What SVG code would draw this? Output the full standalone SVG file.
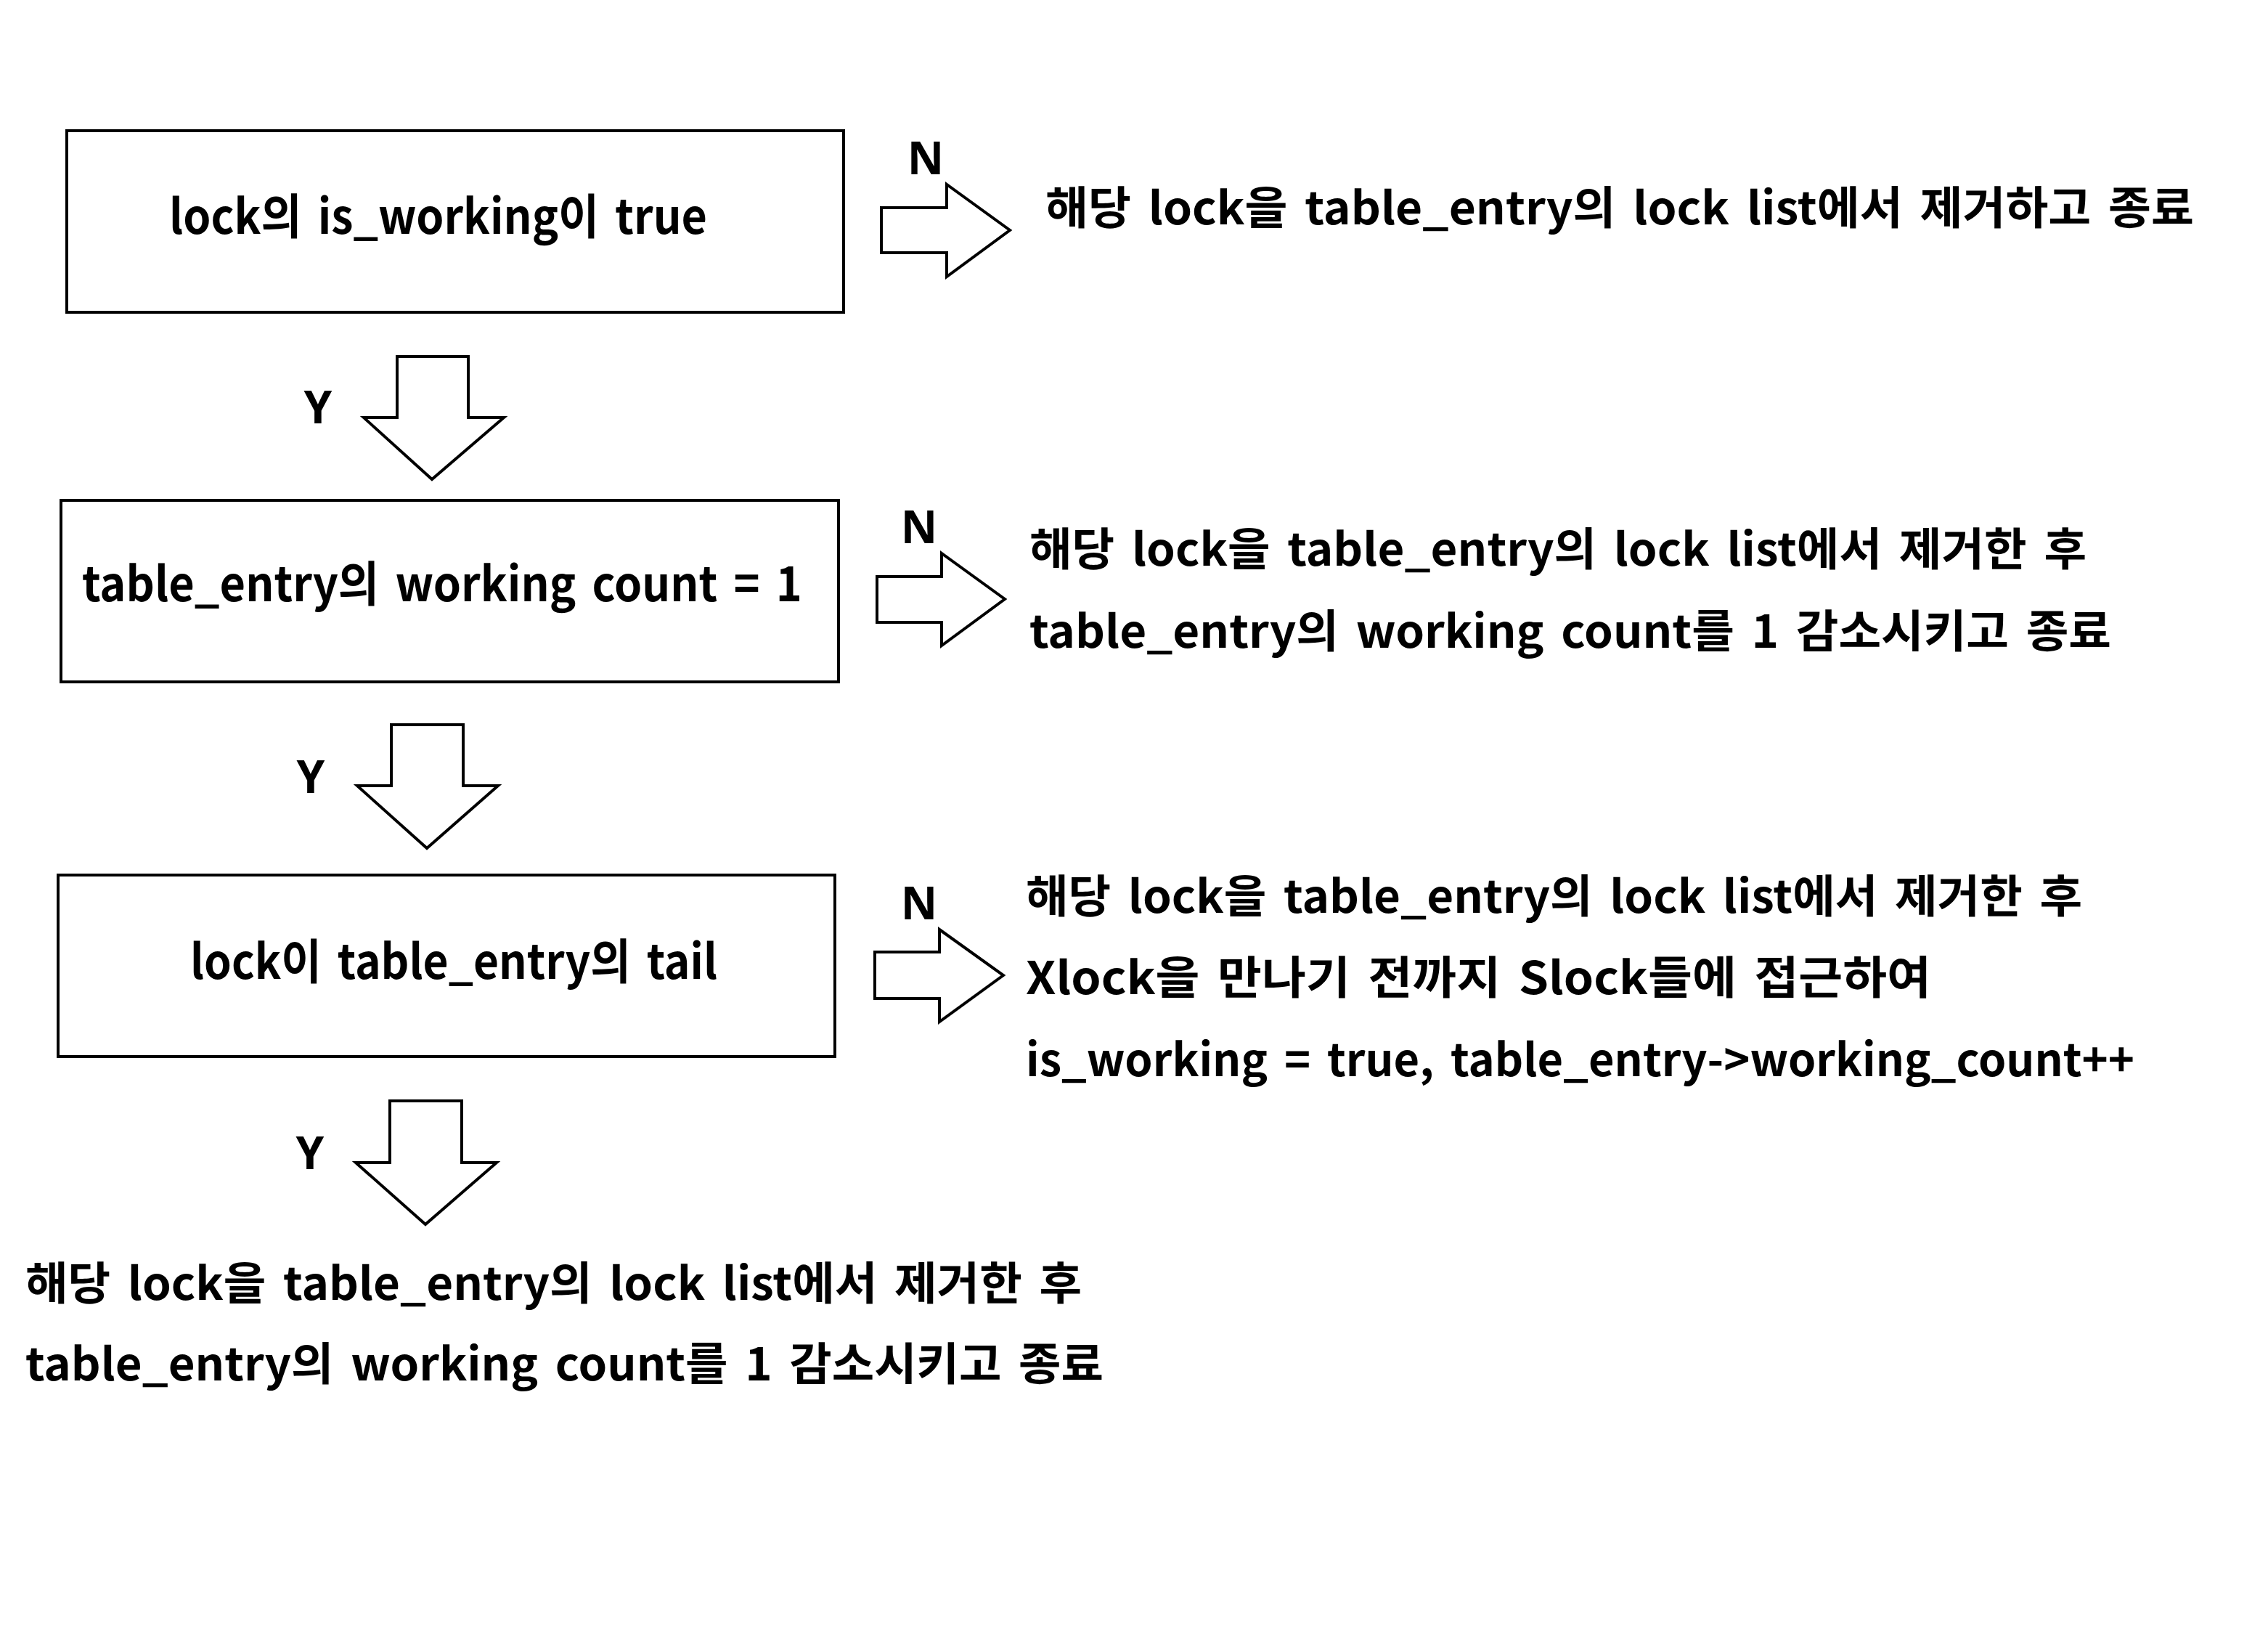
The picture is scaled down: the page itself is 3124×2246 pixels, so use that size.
<svg xmlns="http://www.w3.org/2000/svg" width="3124" height="2246" viewBox="0 0 3124 2246">
<style>
.box{fill:#fff;stroke:#000;stroke-width:4}
.arr{fill:#fff;stroke:#000;stroke-width:4;stroke-linejoin:miter}
.t{font-family:"Noto Sans CJK KR","Malgun Gothic","Noto Sans",sans-serif;font-weight:700;fill:#000;word-spacing:9px}
.bt{font-size:66px}
.st{font-size:62px}
.lb{font-size:62px;text-anchor:middle;font-family:"Noto Sans","Liberation Sans",sans-serif;font-weight:700;fill:#000}
</style>
<rect width="3124" height="2246" fill="#fff"/>
<g id="node-check-working">
<rect class="box" x="92" y="180" width="1070" height="250"/>
<text class="t bt" x="233" y="322" textLength="741" lengthAdjust="spacingAndGlyphs">lock의 is_working이 true</text>
</g>
<g id="node-check-count">
<rect class="box" x="84" y="689" width="1071" height="250"/>
<text class="t bt" x="113" y="828" textLength="992" lengthAdjust="spacingAndGlyphs">table_entry의 working count = 1</text>
</g>
<g id="node-check-tail">
<rect class="box" x="80" y="1205" width="1070" height="250"/>
<text class="t bt" x="262" y="1348" textLength="726" lengthAdjust="spacingAndGlyphs">lock이 table_entry의 tail</text>
</g>
<g id="node-result-1">
<text class="t st" x="1440" y="309" textLength="1582" lengthAdjust="spacingAndGlyphs">해당 lock을 table_entry의 lock list에서 제거하고 종료</text>
</g>
<g id="node-result-2">
<text class="t st" x="1418" y="779" textLength="1456" lengthAdjust="spacingAndGlyphs">해당 lock을 table_entry의 lock list에서 제거한 후</text>
<text class="t st" x="1418" y="892" textLength="1490" lengthAdjust="spacingAndGlyphs">table_entry의 working count를 1 감소시키고 종료</text>
</g>
<g id="node-result-3">
<text class="t st" x="1413" y="1257" textLength="1455" lengthAdjust="spacingAndGlyphs">해당 lock을 table_entry의 lock list에서 제거한 후</text>
<text class="t st" x="1413" y="1369" textLength="1247" lengthAdjust="spacingAndGlyphs">Xlock을 만나기 전까지 Slock들에 접근하여</text>
<text class="t st" x="1413" y="1482" textLength="1527" lengthAdjust="spacingAndGlyphs">is_working = true, table_entry-&gt;working_count++</text>
</g>
<g id="node-result-4">
<text class="t st" x="35" y="1790" textLength="1455" lengthAdjust="spacingAndGlyphs">해당 lock을 table_entry의 lock list에서 제거한 후</text>
<text class="t st" x="35" y="1901" textLength="1485" lengthAdjust="spacingAndGlyphs">table_entry의 working count를 1 감소시키고 종료</text>
</g>
<g id="connectors">
<path class="arr" d="M1214,286 H1304 V254 L1391,317 L1304,381 V348 H1214 Z"/>
<path class="arr" d="M1208,794 H1297 V762 L1384,825 L1297,889 V857 H1208 Z"/>
<path class="arr" d="M1205,1311 H1294 V1280 L1382,1343 L1294,1407 V1375 H1205 Z"/>
<path class="arr" d="M547,491 H645 V575 H694 L595,660 L501,575 H547 Z"/>
<path class="arr" d="M539,998 H638 V1082 H686 L588,1168 L492,1082 H539 Z"/>
<path class="arr" d="M537,1516 H636 V1601 H684 L586,1686 L490,1601 H537 Z"/>
<text class="lb" x="1275" y="240">N</text>
<text class="lb" x="1266" y="748">N</text>
<text class="lb" x="1266" y="1266">N</text>
<text class="lb" x="438" y="583">Y</text>
<text class="lb" x="428" y="1092">Y</text>
<text class="lb" x="427" y="1610">Y</text>
</g>
</svg>
